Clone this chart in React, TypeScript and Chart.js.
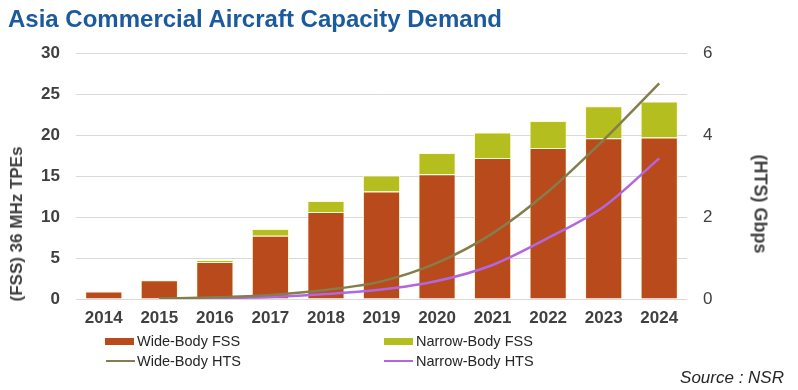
import React, { useEffect, useRef } from "react";
import { Chart, registerables } from "chart.js";

Chart.register(...registerables);

const years = ["2014", "2015", "2016", "2017", "2018", "2019", "2020", "2021", "2022", "2023", "2024"];
const wideBodyFSS = [0.9, 2.3, 4.5, 7.7, 10.6, 13.1, 15.2, 17.2, 18.4, 19.6, 19.7];
const narrowBodyFSS = [0, 0, 0.25, 0.85, 1.35, 1.95, 2.6, 3.1, 3.3, 3.9, 4.4];
const wideBodyHTS = [null, 0.01, 0.04, 0.1, 0.22, 0.43, 0.88, 1.6, 2.62, 3.88, 5.26];
const narrowBodyHTS = [null, 0.0, 0.02, 0.05, 0.12, 0.23, 0.44, 0.83, 1.49, 2.25, 3.43];
const leftTicks = [0, 5, 10, 15, 20, 25, 30];
const rightTickLabels = [0, 2, 4, 6];

const C_WIDE = "#B84A1C";
const C_NARROW = "#B4BE1E";
const C_WIDE_HTS = "#857E4C";
const C_NARROW_HTS = "#B466E0";
const FONT = "'Liberation Sans', Arial, sans-serif";

export default function App() {
  const ref = useRef<HTMLCanvasElement | null>(null);

  useEffect(() => {
    if (!ref.current) return;
    const chart = new Chart(ref.current, {
      type: "bar",
      data: {
        labels: years,
        datasets: [
          {
            type: "line",
            label: "Wide-Body HTS",
            data: wideBodyHTS,
            yAxisID: "y1",
            borderColor: C_WIDE_HTS,
            borderWidth: 2.5,
            pointRadius: 0,
            tension: 0.4,
            cubicInterpolationMode: "monotone",
            order: 0,
          } as any,
          {
            type: "line",
            label: "Narrow-Body HTS",
            data: narrowBodyHTS,
            yAxisID: "y1",
            borderColor: C_NARROW_HTS,
            borderWidth: 2.5,
            pointRadius: 0,
            tension: 0.4,
            cubicInterpolationMode: "monotone",
            order: 0,
          } as any,
          {
            type: "bar",
            label: "Wide-Body FSS",
            data: wideBodyFSS,
            yAxisID: "y",
            backgroundColor: C_WIDE,
            borderColor: "rgba(255,250,205,0.95)",
            borderWidth: 1,
            categoryPercentage: 1,
            barPercentage: 0.67,
            order: 1,
          },
          {
            type: "bar",
            label: "Narrow-Body FSS",
            data: narrowBodyFSS,
            yAxisID: "y",
            backgroundColor: C_NARROW,
            borderColor: "rgba(255,250,205,0.95)",
            borderWidth: 1,
            categoryPercentage: 1,
            barPercentage: 0.67,
            order: 1,
          },
        ],
      },
      options: {
        animation: false,
        responsive: false,
        maintainAspectRatio: false,
        layout: { padding: { top: 53, left: 0, right: 0, bottom: 0 } },
        plugins: { legend: { display: false }, title: { display: false }, tooltip: { enabled: false } },
        scales: {
          x: {
            stacked: true,
            grid: { display: false },
            border: { display: false },
            ticks: {
              color: "#404040",
              font: { family: FONT, size: 17, weight: "bold" },
              padding: 1,
              maxRotation: 0,
            },
            afterFit: (s: any) => {
              s.height = 91;
            },
          },
          y: {
            stacked: true,
            position: "left",
            min: 0,
            max: 30,
            afterBuildTicks: (s: any) => {
              s.ticks = leftTicks.map((v) => ({ value: v }));
            },
            grid: { color: "#D9D9D9", lineWidth: 1, drawTicks: false },
            border: { display: false },
            ticks: {
              color: "#404040",
              font: { family: FONT, size: 17, weight: "bold" },
              padding: 16,
            },
            afterFit: (s: any) => {
              s.width = 76;
            },
          },
          y1: {
            position: "right",
            min: 0,
            max: 6,
            afterBuildTicks: (s: any) => {
              s.ticks = rightTickLabels.map((v) => ({ value: v }));
            },
            grid: { display: false, drawTicks: false },
            border: { display: false },
            ticks: {
              color: "#404040",
              font: { family: FONT, size: 17 },
              padding: 16,
            },
            afterFit: (s: any) => {
              s.width = 111;
            },
          },
        },
      },
    });
    return () => chart.destroy();
  }, []);

  const legendText: React.CSSProperties = {
    position: "absolute",
    fontFamily: FONT,
    fontSize: 14.5,
    color: "#262626",
    lineHeight: "20px",
    whiteSpace: "nowrap",
  };

  return (
    <div style={{ position: "absolute", left: 0, top: 0, width: 798, height: 390, background: "#fff", overflow: "hidden" }}>
      <canvas ref={ref} width={798} height={390} style={{ position: "absolute", left: 0, top: 0, width: 798, height: 390 }} />
      <div
        style={{
          position: "absolute",
          left: 8,
          top: 7,
          fontFamily: FONT,
          fontWeight: "bold",
          fontSize: 24,
          lineHeight: "24px",
          color: "#1C5A9E",
          whiteSpace: "nowrap",
        }}
      >
        Asia Commercial Aircraft Capacity Demand
      </div>
      <div
        style={{
          position: "absolute",
          left: 17,
          top: 224,
          transform: "translate(-50%,-50%) rotate(-90deg)",
          fontFamily: FONT,
          fontWeight: "bold",
          fontSize: 17,
          color: "#404040",
          whiteSpace: "nowrap",
        }}
      >
        (FSS) 36 MHz TPEs
      </div>
      <div
        style={{
          position: "absolute",
          left: 760,
          top: 204,
          transform: "translate(-50%,-50%) rotate(90deg)",
          fontFamily: FONT,
          fontWeight: "bold",
          fontSize: 18,
          color: "#404040",
          whiteSpace: "nowrap",
        }}
      >
        (HTS) Gbps
      </div>
      {/* legend */}
      <div style={{ position: "absolute", left: 105, top: 338, width: 29, height: 7, background: C_WIDE }} />
      <div style={{ ...legendText, left: 137, top: 331 }}>Wide-Body FSS</div>
      <div style={{ position: "absolute", left: 384, top: 338, width: 29, height: 7, background: C_NARROW }} />
      <div style={{ ...legendText, left: 416, top: 331 }}>Narrow-Body FSS</div>
      <div style={{ position: "absolute", left: 106, top: 360, width: 29, height: 2, background: C_WIDE_HTS }} />
      <div style={{ ...legendText, left: 137, top: 351 }}>Wide-Body HTS</div>
      <div style={{ position: "absolute", left: 384, top: 360, width: 29, height: 2, background: C_NARROW_HTS }} />
      <div style={{ ...legendText, left: 416, top: 351 }}>Narrow-Body HTS</div>
      <div
        style={{
          position: "absolute",
          right: 14,
          top: 368,
          fontFamily: FONT,
          fontStyle: "italic",
          fontSize: 17,
          lineHeight: "20px",
          color: "#262626",
          whiteSpace: "nowrap",
        }}
      >
        Source : NSR
      </div>
    </div>
  );
}
